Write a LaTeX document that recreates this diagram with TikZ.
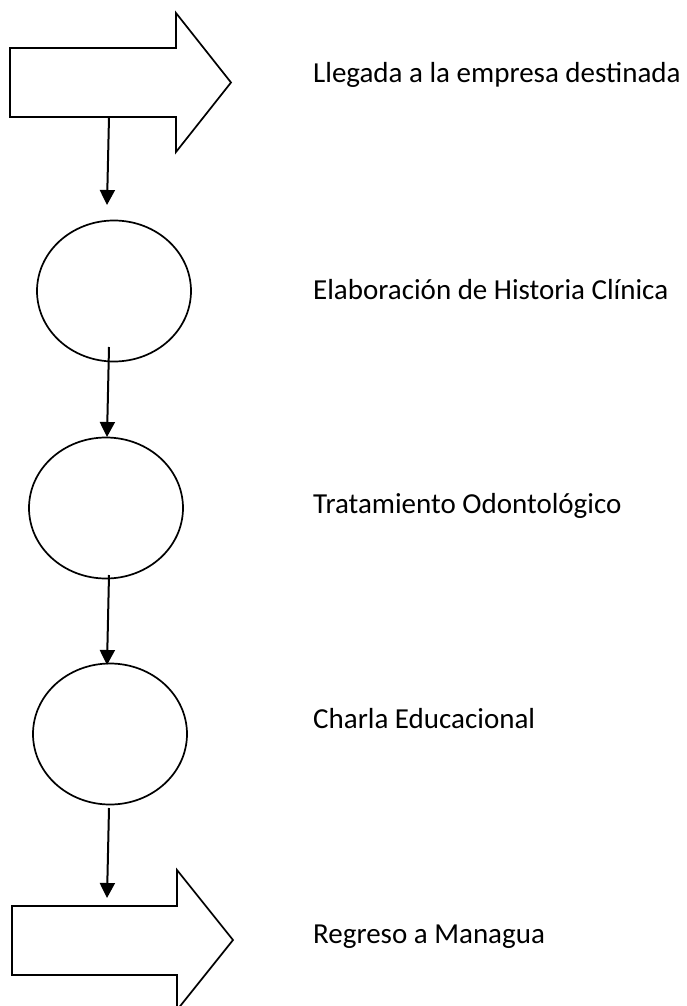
\documentclass[tikz,border=0pt]{standalone}
\usepackage{fontspec}
\setmainfont{Carlito}
\usetikzlibrary{arrows.meta,shapes.geometric}
\begin{document}
\begin{tikzpicture}[x=1pt,y=-1pt,
  shapeline/.style={draw=black,line width=1.7pt,fill=white},
  stepcircle/.style={shapeline,ellipse,inner sep=0pt,minimum width=154pt,minimum height=141pt},
  flow/.style={line width=2pt,-{Triangle[length=15pt,width=15pt]}},
  label/.style={anchor=base west,inner sep=0pt,font=\fontsize{29}{35}\selectfont}]
\useasboundingbox[fill=white] (0,0) rectangle (687,1006);
% top block arrow
\draw[shapeline] (10,48) -- (176,48) -- (176,13) -- (231,82.5) -- (176,152) -- (176,117) -- (10,117) -- cycle;
\coordinate (a1s) at (109,117);
\coordinate (a1e) at (107,205);
% circles
\node[stepcircle] (c1) at (114,291) {};
\node[stepcircle] (c2) at (106,508) {};
\node[stepcircle] (c3) at (110,734) {};
% bottom block arrow
\draw[shapeline] (12,906) -- (177,906) -- (177,870) -- (233,940) -- (177,1010) -- (177,975) -- (12,975) -- cycle;
% connector coordinates
\coordinate (a2s) at (109,347);
\coordinate (a2e) at (107,437);
\coordinate (a3s) at (109,575);
\coordinate (a3e) at (107,665);
\coordinate (a4s) at (109,808);
\coordinate (a4e) at (107,898);
\draw[flow] (a1s) -- (a1e);
\draw[flow] (a2s) -- (a2e);
\draw[flow] (a3s) -- (a3e);
\draw[flow] (a4s) -- (a4e);
% labels
\node[label] (t1) at (313,83) {Llegada a la empresa destinada};
\node[label] (t2) at (313,299) {Elaboración de Historia Clínica};
\node[label] (t3) at (313,513) {Tratamiento Odontológico};
\node[label] (t4) at (313,728) {Charla Educacional};
\node[label] (t5) at (313,943) {Regreso a Managua};
\end{tikzpicture}
\end{document}
